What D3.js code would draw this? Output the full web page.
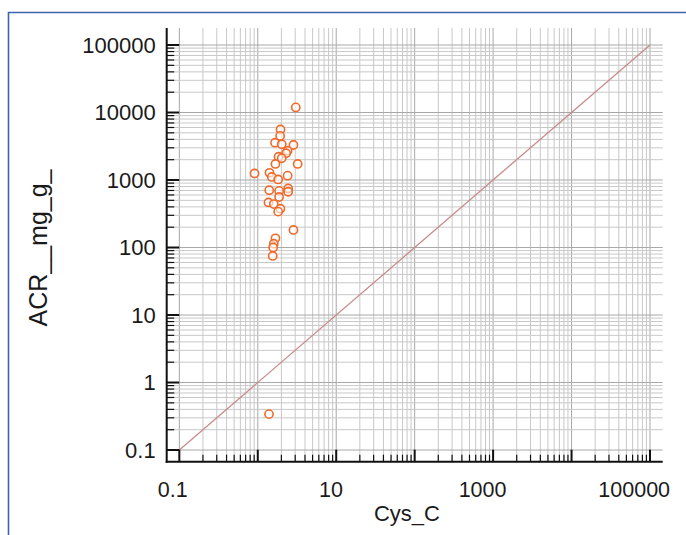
<!DOCTYPE html>
<html>
<head>
<meta charset="utf-8">
<script src="https://cdn.jsdelivr.net/npm/d3@7"></script>
<style>
  html, body { margin: 0; padding: 0; background: #fff; }
  svg { display: block; font-family: "Liberation Sans", Arial, Helvetica, sans-serif; }
</style>
</head>
<body>
<div id="chart"></div>
<script>
(function() {
    'use strict';

    // Cys_C vs ACR (mg/g)
    const cysC = [3.05, 1.95, 1.93, 1.66, 2.02, 2.85, 2.40, 2.30, 1.84, 2.02,
                  3.22, 1.68, 0.91, 1.41, 1.51, 1.82, 2.40, 1.40, 1.87, 2.44,
                  2.44, 1.87, 1.37, 1.60, 1.94, 1.82, 2.85, 1.68, 1.60, 1.57,
                  1.55, 1.39];
    const acr = [11900, 5600, 4500, 3570, 3380, 3300, 2720, 2490, 2210, 2100,
                 1730, 1730, 1250, 1280, 1110, 1020, 1160, 705, 690, 750,
                 670, 560, 465, 440, 376, 340, 182, 137, 114, 100,
                 75, 0.34];
    const decades = [0.1, 1, 10, 100, 1000, 10000, 100000];
    const xLabels = ['0.1', '10', '1000', '100000'];
    const yLabels = ['0.1', '1', '10', '100', '1000', '10000', '100000'];
    const identityLine = [0.1, 100000];

    const width = 686,
        height = 535,
        left = 166.7, right = 662.7, top = 28, bottom = 461.7,
        font = 22;

    const x = d3.scaleLog().domain([Math.pow(10, -1.161), Math.pow(10, 5.162)]).range([left, right]),
        y = d3.scaleLog().domain([Math.pow(10, -1.173), Math.pow(10, 5.252)]).range([bottom, top]);

    // every 1..9 x 10^n between 0.1 and 100000
    const minorVals = [];
    decades.forEach(d => {
        for (let k = 1; k < 10; k++) {
            const v = d * k;
            if (v <= 100000 * 1.0001) minorVals.push(v);
        }
    });
    const isMajor = v => decades.some(d => Math.abs(v / d - 1) < 1e-6);

    const svg = d3.select('#chart')
        .append('svg')
        .attr('width', width)
        .attr('height', height);

    // outer frame (top and left edges visible)
    svg.append('path')
        .attr('d', 'M8.5,' + height + ' V12.5 H' + width)
        .attr('fill', 'none')
        .attr('stroke', '#3d64ad')
        .attr('stroke-width', 1.6);

    // grid
    const grid = svg.append('g');
    grid.selectAll('.vgrid')
        .data(minorVals)
        .enter().append('line')
        .attr('x1', d => x(d)).attr('x2', d => x(d))
        .attr('y1', top).attr('y2', bottom)
        .attr('stroke', d => isMajor(d) ? '#a8a8a8' : '#c8c8c8')
        .attr('stroke-width', 1);
    grid.selectAll('.hgrid')
        .data(minorVals)
        .enter().append('line')
        .attr('x1', left).attr('x2', right)
        .attr('y1', d => y(d)).attr('y2', d => y(d))
        .attr('stroke', d => isMajor(d) ? '#a8a8a8' : '#c8c8c8')
        .attr('stroke-width', 1);

    // y = x reference line
    svg.append('line')
        .attr('x1', x(identityLine[0])).attr('y1', y(identityLine[0]))
        .attr('x2', x(identityLine[1])).attr('y2', y(identityLine[1]))
        .attr('stroke', '#c98b8b')
        .attr('stroke-width', 1.3);

    // points
    svg.append('g').selectAll('circle')
        .data(cysC.map((c, i) => ({c: c, a: acr[i]})))
        .enter().append('circle')
        .attr('cx', d => x(d.c))
        .attr('cy', d => y(d.a))
        .attr('r', 4.1)
        .attr('fill', '#fff')
        .attr('fill-opacity', 0.6)
        .attr('stroke', '#ef6a2a')
        .attr('stroke-width', 1.6);

    // axes
    const axes = svg.append('g').attr('stroke', '#111');
    axes.append('line')
        .attr('x1', left).attr('x2', left).attr('y1', top).attr('y2', bottom + 1)
        .attr('stroke-width', 2);
    axes.append('line')
        .attr('x1', left - 1).attr('x2', right).attr('y1', bottom).attr('y2', bottom)
        .attr('stroke-width', 2);

    axes.selectAll('.xt')
        .data(minorVals)
        .enter().append('line')
        .attr('x1', d => x(d)).attr('x2', d => x(d))
        .attr('y1', bottom).attr('y2', d => bottom - (isMajor(d) ? 12 : 7))
        .attr('stroke-width', d => isMajor(d) ? 2 : 1.2);
    axes.selectAll('.yt')
        .data(minorVals)
        .enter().append('line')
        .attr('y1', d => y(d)).attr('y2', d => y(d))
        .attr('x1', left).attr('x2', d => left + (isMajor(d) ? 12.5 : 7.5))
        .attr('stroke-width', d => isMajor(d) ? 2 : 1.2);

    // tick labels
    svg.append('g').selectAll('text')
        .data(yLabels)
        .enter().append('text')
        .attr('x', left - 11)
        .attr('y', d => y(+d))
        .attr('dy', '0.36em')
        .attr('text-anchor', 'end')
        .attr('font-size', font)
        .attr('fill', '#1a1a1a')
        .text(d => d);

    const xl = svg.append('g').selectAll('text')
        .data(xLabels)
        .enter().append('text')
        .attr('x', d => x(+d))
        .attr('y', 497)
        .attr('text-anchor', 'middle')
        .attr('font-size', font - 0.5)
        .attr('fill', '#1a1a1a')
        .text(d => d);
    xl.attr('dx', function() { return -0.22 * this.getComputedTextLength(); });

    // axis titles
    svg.append('text')
        .attr('x', 407)
        .attr('y', 521)
        .attr('text-anchor', 'middle')
        .attr('font-size', font)
        .attr('fill', '#1a1a1a')
        .text('Cys_C');
    svg.append('text')
        .attr('transform', 'translate(47,248) rotate(-90)')
        .attr('text-anchor', 'middle')
        .attr('font-size', 25)
        .attr('fill', '#1a1a1a')
        .text('ACR__mg_g_');
})();
</script>
</body>
</html>
